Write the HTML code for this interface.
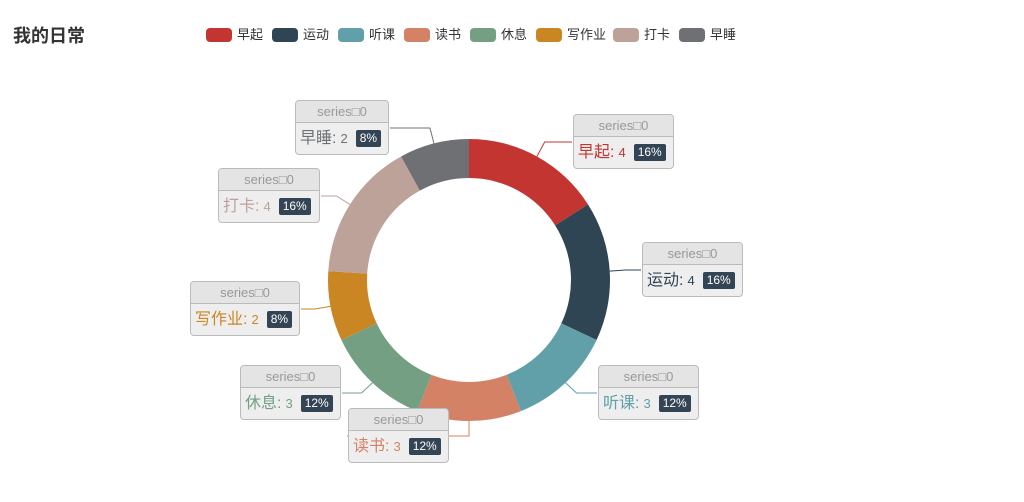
<!DOCTYPE html>
<html><head><meta charset="utf-8">
<style>
html,body{margin:0;padding:0;background:#fff;}
body{width:1024px;height:502px;position:relative;overflow:hidden;font-family:"Liberation Sans","Noto Sans CJK SC",sans-serif;}
#title{position:absolute;left:13px;top:22px;font-size:18px;font-weight:bold;color:#333;}
.lg{position:absolute;top:28px;height:14px;font-size:13px;color:#333;line-height:14px;cursor:pointer;}
.lg i{display:inline-block;width:26px;height:14px;border-radius:4px;vertical-align:top;margin-right:5px;}
.box{position:absolute;background:#eee;border:1px solid #bbb;border-radius:4px;height:55px;box-sizing:border-box;white-space:nowrap;}
.hd{height:21px;background:#e4e4e4;border-bottom:1px solid #bbb;border-radius:4px 4px 0 0;text-align:center;font-size:13px;color:#999;line-height:21px;}
.bd{padding:0 4px;line-height:32px;}
.nm{font-size:16px;}
.vl{font-size:13px;margin-left:4px;}
.pc{display:inline-block;background:#334455;color:#fff;font-size:12px;line-height:17px;padding:0 4px;border-radius:2px;margin-left:8px;vertical-align:1px;}
svg{position:absolute;left:0;top:0;}
</style></head>
<body>
<div id="title">我的日常</div>
<div id="legend"></div>
<svg id="chart" width="1024" height="502"></svg>
<div id="labels"></div>
<script>
const categories=["早起","运动","听课","读书","休息","写作业","打卡","早睡"];
const values=[4,4,3,3,3,2,4,2];
const colors=["#c23531","#2f4554","#61a0a8","#d48265","#749f83","#ca8622","#bda29a","#6e7074"];
const legendX=[206,272,338,404,470,536,613,679];
const boxPos=[[573,114,101],[642,242,101],[598,365,101],[348,408,101],[240,365,101],[190,281,110],[218,168,102],[295,100,94]];
const cx=469,cy=280,R=141,r=102;
const NS="http://www.w3.org/2000/svg";
const svg=document.getElementById('chart');
const total=values.reduce((a,b)=>a+b,0);
function pt(a,rad){return [cx+rad*Math.sin(a),cy-rad*Math.cos(a)];}
let acc=0;
const lg=document.getElementById('legend');
categories.forEach((c,i)=>{
  const d=document.createElement('div');d.className='lg';d.style.left=legendX[i]+'px';
  d.innerHTML='<i style="background:'+colors[i]+'"></i>'+c;
  
  
  lg.appendChild(d);
});
const labs=document.getElementById('labels');
values.forEach((v,i)=>{
  const a0=acc/total*2*Math.PI;acc+=v;const a1=acc/total*2*Math.PI;
  const large=(a1-a0)>Math.PI?1:0;
  const p0=pt(a0,R),p1=pt(a1,R),q1=pt(a1,r),q0=pt(a0,r);
  const path=document.createElementNS(NS,'path');
  path.setAttribute('d',`M${p0[0]},${p0[1]}A${R},${R} 0 ${large} 1 ${p1[0]},${p1[1]}L${q1[0]},${q1[1]}A${r},${r} 0 ${large} 0 ${q0[0]},${q0[1]}Z`);
  path.setAttribute('fill',colors[i]);
  
  
  svg.appendChild(path);
  const am=(a0+a1)/2;
  const s=pt(am,R),e=pt(am,R+16);
  const b=boxPos[i];
  const right=Math.sin(am)>=0;
  const ex=right?b[0]-1:b[0]+b[2]+1;
  const ey=b[1]+28;
  const ln=document.createElementNS(NS,'polyline');
  ln.setAttribute('points',`${s[0]},${s[1]} ${e[0]},${ey} ${ex},${ey}`);
  ln.setAttribute('fill','none');ln.setAttribute('stroke',colors[i]);ln.setAttribute('stroke-width','1');
  
  
  svg.appendChild(ln);
  const pct=Math.round(v/total*100)+'%';
  const bx=document.createElement('div');bx.className='box';
  bx.style.left=b[0]+'px';bx.style.top=b[1]+'px';bx.style.width=b[2]+'px';
  bx.innerHTML='<div class="hd">series\u25A10</div><div class="bd" style="color:'+colors[i]+'"><span class="nm">'+categories[i]+':</span><span class="vl">'+v+'</span><span class="pc">'+pct+'</span></div>';
  
  
  labs.appendChild(bx);
});
</script>
</body></html>
